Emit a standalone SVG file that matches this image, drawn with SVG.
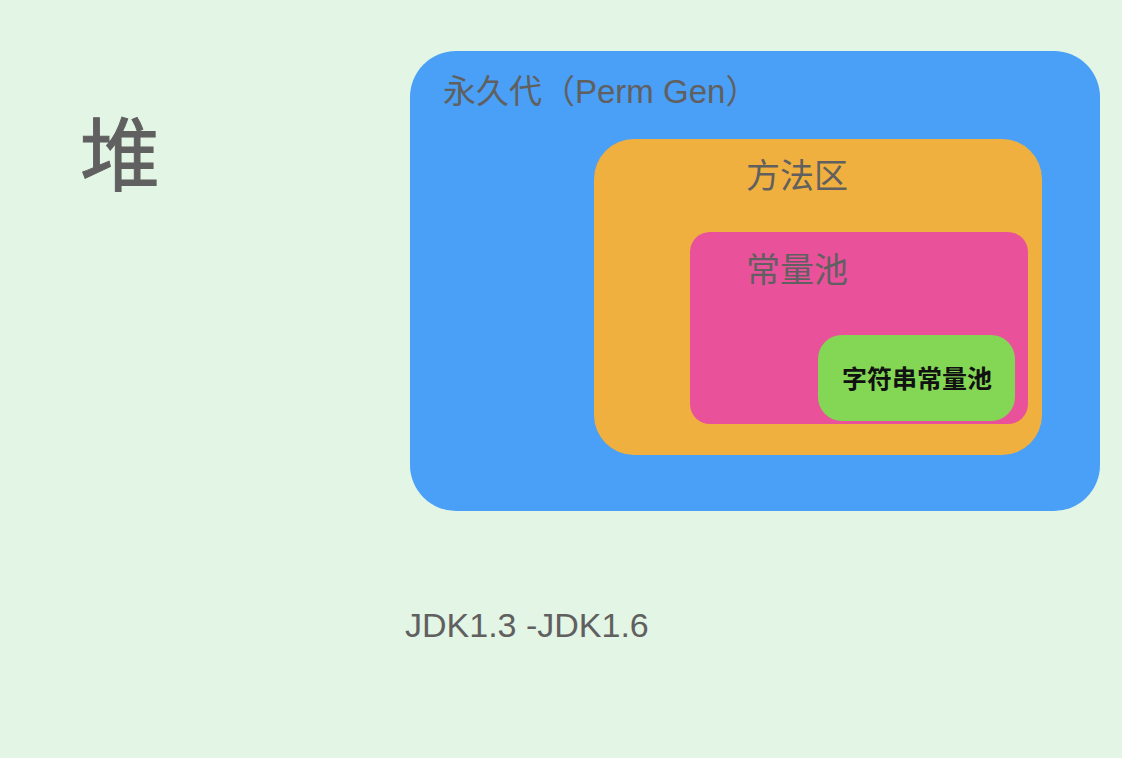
<svg xmlns="http://www.w3.org/2000/svg" width="1122" height="758" viewBox="0 0 1122 758">
<style>
.lbl{font-family:"Liberation Sans","Noto Sans CJK SC",sans-serif;fill:#606060}
.cjk{font-family:"Noto Sans CJK SC","Liberation Sans",sans-serif;fill:#606060}
</style>
<rect x="0" y="0" width="1122" height="758" fill="#e3f5e4"/>
<g id="heap"><text class="cjk" x="80" y="184" font-size="80" stroke="#606060" stroke-width="1">堆</text></g>
<g id="perm">
<rect x="410" y="51" width="690" height="460" rx="46" fill="#4a9ff7"/>
<text class="lbl" x="443" y="103" font-size="33">永久代（Perm Gen）</text>
</g>
<g id="method">
<rect x="594" y="139" width="448" height="316" rx="40" fill="#f0b03f"/>
<text class="cjk" x="746" y="188" font-size="34">方法区</text>
</g>
<g id="cpool">
<rect x="690" y="232" width="338" height="192" rx="20" fill="#e9529b"/>
<text class="cjk" x="746" y="282" font-size="34">常量池</text>
</g>
<g id="spool">
<rect x="818" y="335" width="197" height="86" rx="24" fill="#84d655"/>
<text x="917" y="388" font-size="25" font-weight="bold" text-anchor="middle" font-family="Noto Sans CJK SC, sans-serif" fill="#111">字符串常量池</text>
</g>
<g id="version"><text class="lbl" x="405" y="637" font-size="34">JDK1.3 -JDK1.6</text></g>
<g id="connectors"></g>
</svg>
